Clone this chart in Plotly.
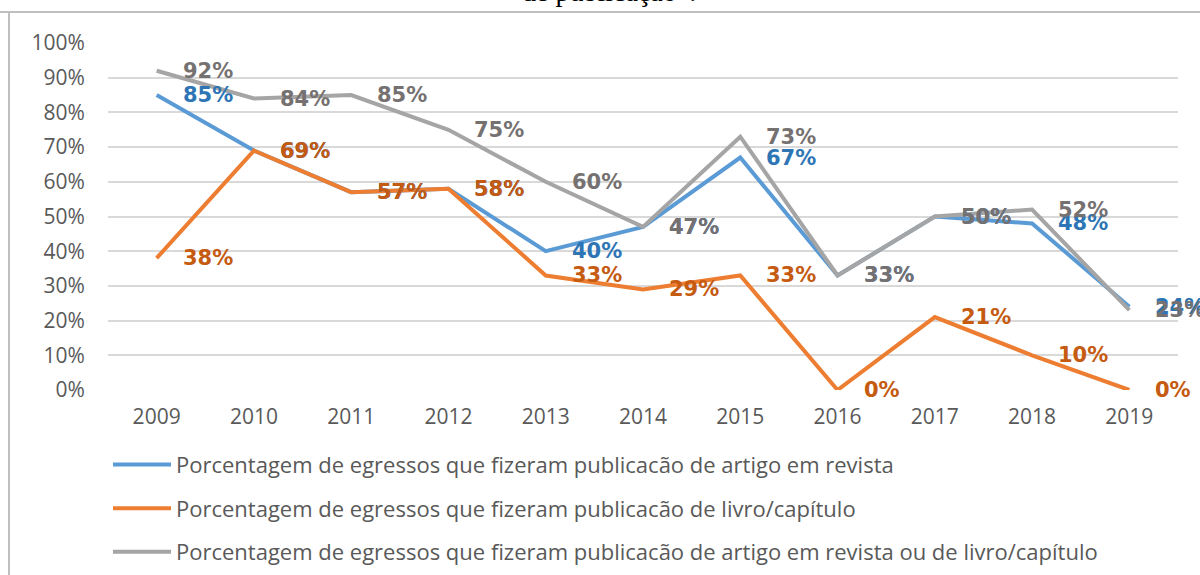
import plotly.graph_objects as go

years = ["2009", "2010", "2011", "2012", "2013", "2014", "2015", "2016", "2017", "2018", "2019"]
artigo = [85, 69, 57, 58, 40, 47, 67, 33, 50, 48, 24]
livro = [38, 69, 57, 58, 33, 29, 33, 0, 21, 10, 0]
artigo_ou_livro = [92, 84, 85, 75, 60, 47, 73, 33, 50, 52, 23]

names = [
    "Porcentagem de egressos que fizeram publicacão de artigo em revista",
    "Porcentagem de egressos que fizeram publicacão de livro/capítulo",
    "Porcentagem de egressos que fizeram publicacão de artigo em revista ou de livro/capítulo",
]
line_colors = ["#5B9BD5", "#ED7D31", "#A5A5A5"]
label_colors = ["#2E75B6", "#C55A11", "#767171"]
series = [artigo, livro, artigo_ou_livro]
y_ticks = [0, 10, 20, 30, 40, 50, 60, 70, 80, 90, 100]
y_ticktext = [f"{v}%" for v in y_ticks]

fig = go.Figure()
for i, (vals, name) in enumerate(zip(series, names)):
    fig.add_trace(go.Scatter(
        x=years, y=vals, mode="lines", name=name,
        line=dict(color=line_colors[i], width=4),
        legendgroup=f"g{i}",
    ))

annotations = []
for i, vals in enumerate(series):
    for idx, v in enumerate(vals):
        annotations.append(dict(
            x=idx, y=v, xref="x", yref="y", text=f"<b>{v}%</b>", showarrow=False,
            xanchor="left", yanchor="middle", xshift=24,
            font=dict(family="DejaVu Sans", size=21, color=label_colors[i]),
        ))

annotations.append(dict(
    x=(609 - 108) / 1070, y=(390 - 9) / 347, xref="paper", yref="paper",
    text="de publicação”.", showarrow=False,
    xanchor="center", yanchor="bottom",
    font=dict(family="Liberation Serif", size=28, color="#000000"),
))

fig.update_layout(
    template="none",
    width=1200, height=575,
    margin=dict(l=108, r=22, t=43, b=185, autoexpand=False),
    paper_bgcolor="white", plot_bgcolor="white",
    showlegend=True,
    legend=dict(
        orientation="v", x=0.0, y=-0.155, xanchor="left", yanchor="top",
        font=dict(family="Open Sans", size=22, color="#595959"),
        tracegroupgap=12, itemwidth=58, bgcolor="rgba(0,0,0,0)",
    ),
    xaxis=dict(
        type="category", range=[-0.5, 10.5], showgrid=False, zeroline=False,
        showline=False, ticks="outside", ticklen=8, tickcolor="rgba(0,0,0,0)",
        automargin=False,
        tickfont=dict(family="Open Sans", size=21, color="#595959"),
    ),
    yaxis=dict(
        range=[0, 100], tickvals=y_ticks, ticktext=y_ticktext,
        showgrid=True, gridcolor="#D9D9D9", gridwidth=2, zeroline=False,
        showline=False, ticks="outside", ticklen=18, tickcolor="rgba(0,0,0,0)",
        automargin=False,
        tickfont=dict(family="Open Sans", size=21, color="#595959"),
    ),
    annotations=annotations,
    shapes=[
        dict(type="line", xref="paper", yref="paper", x0=-0.2, x1=1.1,
             y0=(390 - 12) / 347, y1=(390 - 12) / 347, line=dict(color="#BFBFBF", width=2)),
        dict(type="line", xref="paper", yref="paper", x0=(9 - 108) / 1070, x1=(9 - 108) / 1070,
             y0=(390 - 12) / 347, y1=-0.6, line=dict(color="#BFBFBF", width=2)),
    ],
)

fig.write_html(
    "out.html",
    config={"displayModeBar": False},
    post_script="document.body.style.margin='0';document.body.style.padding='0';",
)
